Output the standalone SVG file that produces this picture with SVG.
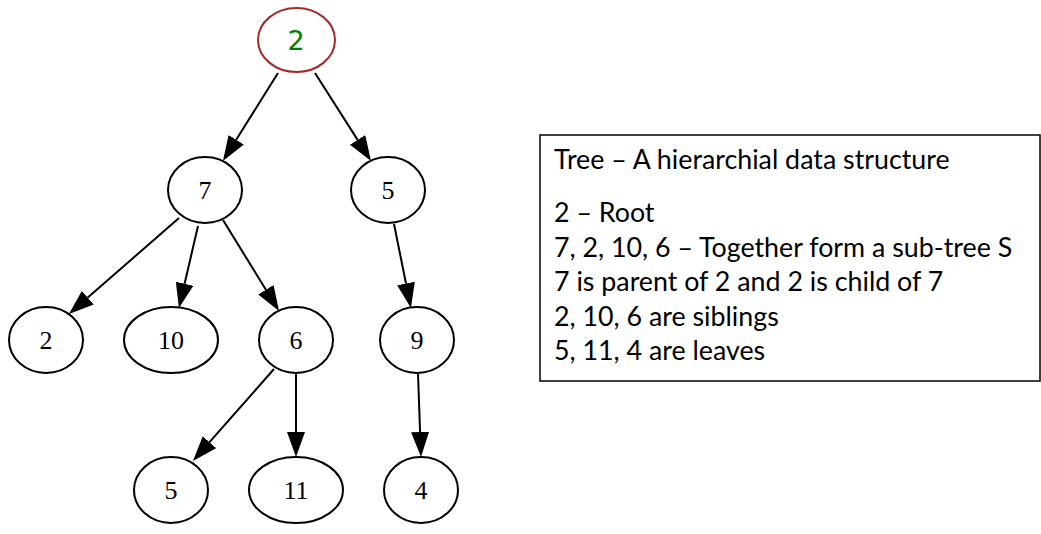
<svg xmlns="http://www.w3.org/2000/svg" width="1041" height="534" viewBox="0 0 1041 534">
<defs>
<marker id="ah" viewBox="0 0 25 18" refX="0" refY="9" markerWidth="25" markerHeight="18" markerUnits="userSpaceOnUse" orient="auto">
<path d="M0,0 L25,9 L0,18 Z" fill="#000"/>
</marker>
<style>
.n ellipse{fill:#fff;stroke:#000;stroke-width:2}
.n text{font-family:"Liberation Serif","Times New Roman",serif;font-size:26px;text-anchor:middle;fill:#000}
.e line{stroke:#000;stroke-width:2;marker-end:url(#ah)}
.info text{font-family:Lato,"Open Sans",sans-serif;font-size:26.8px;fill:#000}
</style>
</defs>
<rect width="1041" height="534" fill="#fff"/>
<g id="edges" class="e">
<line x1="278" y1="73" x2="236.2" y2="139.8"/>
<line x1="315" y1="73" x2="357.6" y2="139.9"/>
<line x1="179" y1="218" x2="87.8" y2="297.6"/>
<line x1="198" y1="226" x2="184.6" y2="283.7"/>
<line x1="223" y1="220" x2="265.9" y2="289.7"/>
<line x1="394" y1="224" x2="406" y2="283.5"/>
<line x1="274" y1="369" x2="209.5" y2="442.2"/>
<line x1="296" y1="374" x2="296" y2="432"/>
<line x1="418" y1="374" x2="420.1" y2="432"/>
</g>
<g id="n_root" class="n">
<ellipse cx="296.5" cy="40" rx="38.5" ry="32" style="stroke:#a52a2a"/>
<text x="296" y="50" style="font-family:'DejaVu Sans',sans-serif;font-size:27px;fill:#008000">2</text>
</g>
<g id="n7" class="n"><ellipse cx="205" cy="190" rx="37" ry="33"/><text x="205" y="199">7</text></g>
<g id="n5a" class="n"><ellipse cx="388" cy="190" rx="37" ry="33"/><text x="388" y="199">5</text></g>
<g id="n2" class="n"><ellipse cx="46" cy="340" rx="37" ry="33"/><text x="46" y="349">2</text></g>
<g id="n10" class="n"><ellipse cx="171" cy="340" rx="47" ry="33"/><text x="171" y="349">10</text></g>
<g id="n6" class="n"><ellipse cx="296" cy="340" rx="37" ry="33"/><text x="296" y="349">6</text></g>
<g id="n9" class="n"><ellipse cx="417" cy="340" rx="37" ry="33"/><text x="417" y="349">9</text></g>
<g id="n5b" class="n"><ellipse cx="171" cy="490" rx="37" ry="33"/><text x="171" y="499">5</text></g>
<g id="n11" class="n"><ellipse cx="296" cy="490" rx="47" ry="33"/><text x="296" y="499">11</text></g>
<g id="n4" class="n"><ellipse cx="421" cy="490" rx="37" ry="33"/><text x="421" y="499">4</text></g>
<g id="info" class="info">
<rect x="540" y="135" width="500" height="246" fill="#fff" stroke="#000" stroke-width="1.5"/>
<text x="554" y="169">Tree – A hierarchial data structure</text>
<text x="554" y="222">2 – Root</text>
<text x="554" y="257">7, 2, 10, 6 – Together form a sub-tree S</text>
<text x="554" y="291">7 is parent of 2 and 2 is child of 7</text>
<text x="554" y="326">2, 10, 6 are siblings</text>
<text x="554" y="360">5, 11, 4 are leaves</text>
</g>
</svg>
